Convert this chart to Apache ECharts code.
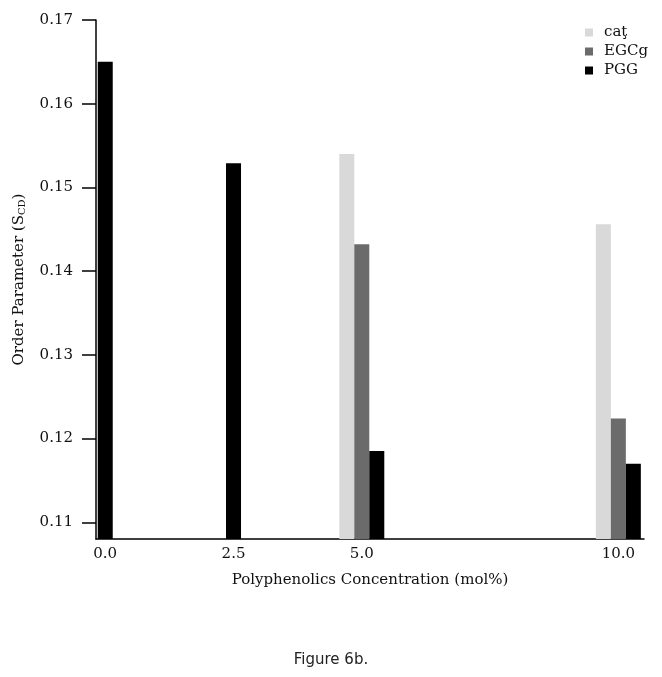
<!DOCTYPE html>
<html>
<head>
<meta charset="utf-8">
<script src="https://cdn.jsdelivr.net/npm/echarts@6/dist/echarts.min.js"></script>
<style>html,body{margin:0;padding:0;background:#fff;}#chart{width:662px;height:677px;}</style>
</head>
<body>
<div id="chart"></div>
<script>
const concentrations = [0, 2.5, 5, 10];
const catValues = [null, null, 0.154, 0.1456];
const egcgValues = [null, null, 0.1432, 0.1224];
const pggValues = [0.165, 0.1529, 0.1185, 0.117];
const yTickValues = [0.11, 0.12, 0.13, 0.14, 0.15, 0.16, 0.17];
const xTickValues = [0, 2.5, 5, 10];
const seriesNames = ['caţ', 'EGCg', 'PGG'];
const xAxisTitle = 'Polyphenolics Concentration (mol%)';
const yAxisTitle = 'Order Parameter (S{sub|CD})';
const caption = 'Figure 6b.';

const serif = 'DejaVu Serif';
function pairs(vals, keep) {
  const out = [];
  vals.forEach((v, i) => { if (v != null && keep(i)) out.push([concentrations[i], v]); });
  return out;
}
const grouped = i => catValues[i] != null || egcgValues[i] != null;
const solo = i => !grouped(i);

const chart = echarts.init(document.getElementById('chart'), null, {renderer: 'canvas'});
const baseX = {
  type: 'value', min: -0.18, max: 10.5,
  splitLine: {show: false}
};
chart.setOption({
  animation: false,
  backgroundColor: '#fff',
  grid: {left: 96, right: 18, top: 20, bottom: 138, containLabel: false, outerBoundsMode: 'none'},
  legend: {
    data: seriesNames,
    orient: 'vertical', left: 580, top: 20,
    itemWidth: 8, itemHeight: 8, itemGap: 4,
    icon: 'rect',
    textStyle: {fontFamily: serif, fontSize: 15, color: '#111', padding: [0, 0, 0, 6]}
  },
  xAxis: [
    Object.assign({}, baseX, {
      name: xAxisTitle, nameLocation: 'middle', nameGap: 34,
      nameTextStyle: {fontFamily: serif, fontSize: 15, color: '#111'},
      axisLine: {show: true, onZero: false, lineStyle: {color: '#000', width: 1.5}},
      axisTick: {show: false},
      axisLabel: {
        customValues: xTickValues, margin: 8,
        fontFamily: serif, fontSize: 15, color: '#111',
        formatter: v => Number(v).toFixed(1)
      }
    }),
    Object.assign({}, baseX, {show: false})
  ],
  yAxis: {
    type: 'value', min: 0.108, max: 0.17,
    splitLine: {show: false},
    name: yAxisTitle, nameLocation: 'middle', nameGap: 69, nameRotate: 90,
    nameTextStyle: {
      fontFamily: serif, fontSize: 15, color: '#111',
      rich: {sub: {fontFamily: serif, fontSize: 10, color: '#111', verticalAlign: 'bottom', padding: [6, 0, 0, 0]}}
    },
    axisLine: {show: true, onZero: false, lineStyle: {color: '#000', width: 1.5}},
    axisTick: {show: true, customValues: yTickValues, length: 14, inside: false, lineStyle: {color: '#000', width: 1.5}},
    axisLabel: {
      customValues: yTickValues, margin: 23,
      fontFamily: serif, fontSize: 15, color: '#111',
      formatter: v => Number(v).toFixed(2)
    }
  },
  series: [
    {name: seriesNames[0], type: 'bar', xAxisIndex: 0, barWidth: 15, barGap: '0%',
     itemStyle: {color: '#d9d9d9'}, data: pairs(catValues, grouped)},
    {name: seriesNames[1], type: 'bar', xAxisIndex: 0, barWidth: 15, barGap: '0%',
     itemStyle: {color: '#6b6b6b'}, data: pairs(egcgValues, grouped)},
    {name: seriesNames[2], type: 'bar', xAxisIndex: 0, barWidth: 15, barGap: '0%',
     itemStyle: {color: '#000'}, data: pairs(pggValues, grouped)},
    {name: seriesNames[2], type: 'bar', xAxisIndex: 1, barWidth: 15,
     itemStyle: {color: '#000'}, data: pairs(pggValues, solo)}
  ],
  graphic: [{
    type: 'text', left: 'center', top: 653,
    style: {text: caption, fontFamily: 'DejaVu Sans', fontSize: 15, fill: '#222'}
  }]
});
</script>
</body>
</html>
